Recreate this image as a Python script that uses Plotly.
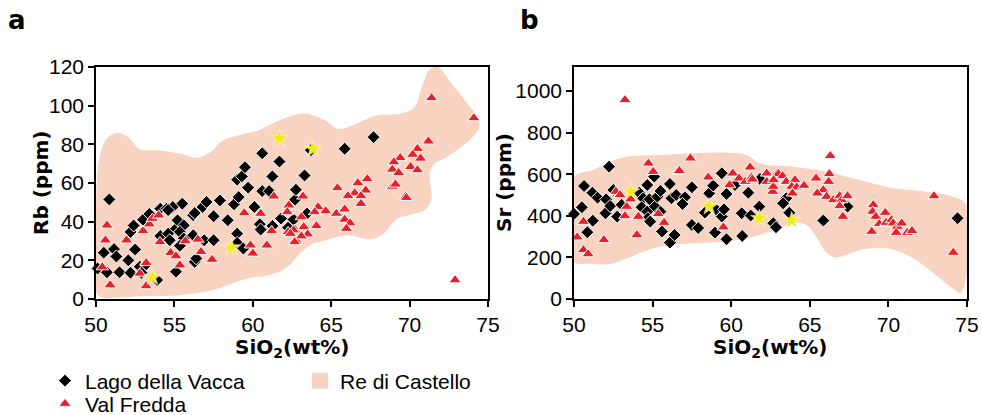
import plotly.graph_objects as go

# ---------------- data ----------------
# Panel a: SiO2 vs Rb
a_lv_x = [50.1, 50.85, 50.5, 50.7, 51.15, 51.3, 51.5, 52.06, 52.2, 52.4, 52.5, 52.2, 52.8, 52.9, 53.2, 53.0, 53.4, 53.9,
          54.1, 54.1, 54.5, 54.6, 54.7, 55.1, 55.2, 55.6, 55.35, 55.6, 55.35, 55.1, 55.5, 54.9, 56.2, 56.3, 56.2, 56.3,
          56.4, 56.9, 56.8, 57.05, 57.5, 57.5, 57.9, 58.4, 58.8, 59.0, 59.1, 59.0, 59.3, 59.5, 59.7, 59.0, 59.4, 60.1,
          60.45, 60.5, 60.6, 60.6, 61.04, 61.25, 61.25, 61.7, 61.8, 62.25, 62.6, 62.7, 62.75, 63.7, 65.86, 67.7, 63.3,
          63.46, 54.6]
a_lv_y = [15.8, 51.5, 23.9, 13.8, 25.8, 22.0, 13.8, 20.0, 34.7, 38.0, 25.6, 13.6, 16.7, 13.6, 18.0, 41.0, 44.0, 9.8,
          32.6, 46.7, 46.7, 33.8, 30.4, 36.4, 40.7, 38.1, 34.7, 31.3, 27.5, 14.1, 49.3, 47.6, 43.3, 44.5, 33.0, 19.2,
          21.0, 30.4, 47.6, 50.2, 30.4, 42.8, 51.0, 40.7, 49.0, 33.8, 52.7, 61.7, 63.4, 68.2, 57.6, 29.0, 26.1, 47.6,
          38.7, 35.9, 75.4, 55.8, 55.8, 63.4, 37.8, 71.1, 41.6, 36.9, 41.1, 51.4, 56.5, 77.0, 77.7, 83.7, 63.9,
          44.2, 46.0]

a_vf_x = [50.7, 50.6, 50.9, 51.95, 53.0, 53.4, 53.6, 54.0, 53.2, 52.8, 54.76, 55.1, 55.35, 55.7, 56.5, 56.7, 57.4,
          59.45, 59.85, 60.0, 60.5, 60.9, 61.2, 61.34, 62.3, 62.2, 62.25, 62.7, 62.75, 54.08, 53.2, 50.4,
          71.4, 74.1, 72.9, 71.2, 70.5, 70.2, 70.7, 69.4, 69.0, 68.9, 69.3, 70.06, 70.5, 68.9, 69.1, 69.75, 69.8,
          67.3, 66.7, 67.2, 66.5, 66.07, 66.9, 66.9, 65.4, 63.2, 64.16, 63.95, 64.65, 65.33, 65.86, 65.86, 66.2,
          65.97, 64.06, 63.25, 63.5, 63.1, 62.67, 62.6, 63.1, 62.4]
a_vf_y = [38.1, 30.4, 7.2, 30.4, 35.2, 38.7, 41.6, 43.3, 6.7, 13.2, 23.9, 22.2, 17.5, 30.0, 30.8, 24.4, 20.4,
          44.5, 27.8, 23.6, 44.2, 27.8, 35.2, 53.1, 48.5, 45.0, 34.7, 35.9, 30.4, 29.5, 18.7, 16.5,
          104.0, 93.6, 9.8, 81.6, 77.7, 74.7, 72.7, 73.0, 70.8, 67.0, 65.3, 68.4, 66.7, 58.2, 59.3, 53.1, 52.4,
          62.1, 60.0, 56.2, 54.8, 53.3, 53.3, 49.3, 57.4, 53.1, 47.6, 45.0, 45.5, 44.2, 46.4, 41.1, 39.3,
          36.4, 37.8, 37.3, 33.5, 32.5, 29.5, 35.6, 42.4, 33.8]

a_star_x = [53.6, 58.64, 61.7, 63.85]
a_star_y = [11.2, 26.6, 83.2, 77.7]

# Re di Castello field, panel a (outline points)
a_field_x = [50.05, 50.0, 50.15, 50.6, 51.3, 52.0, 52.8, 54.0, 55.5, 56.4, 57.3, 58.1, 59.2, 60.3, 61.7, 63.2, 64.5,
             65.5, 66.7, 67.9, 69.5, 70.3, 70.8, 71.3, 71.8, 72.8, 73.8, 74.4, 74.4, 73.8, 73.0, 72.3, 71.6, 71.3,
             71.3, 71.4, 71.0, 70.0, 69.2, 68.3, 67.5, 66.0, 64.5, 63.8, 63.0, 62.2, 61.1, 59.8, 58.5, 57.5, 55.4,
             53.0, 51.0, 50.3, 50.05]
a_field_y = [3, 40, 70, 82, 86, 84, 77.5, 77, 75, 73, 76, 82, 85, 87, 92.5, 96, 93,
             88, 91, 95, 96, 99, 110, 119, 120, 110, 100, 93, 88, 82, 77, 73, 70, 66,
             60, 52, 46, 43.5, 41.5, 33.5, 31, 33, 30, 28.5, 23.5, 16.5, 12.4, 10.8, 7.5, 4.6, 2,
             1.5, 0.5, 1, 3]

# Panel b: SiO2 vs Sr
b_lv_x = [50.0, 50.5, 50.64, 50.85, 51.17, 51.2, 51.5, 52.04, 52.0, 52.23, 52.3, 52.5, 52.75, 53.03, 54.15, 54.4,
          54.3, 54.66, 54.8, 54.66, 54.7, 54.85, 55.15, 55.1, 55.3, 55.5, 55.6, 55.5, 56.1, 56.2, 56.1, 56.4, 56.5,
          57.06, 56.9, 57.5, 57.5, 57.9, 58.33, 58.6, 58.86, 59.03, 58.97, 59.4, 59.4, 59.54, 59.7, 59.7, 60.24,
          60.67, 60.7, 61.09, 61.24, 61.79, 61.83, 62.68, 62.85, 63.5, 63.3, 63.7, 65.86, 67.4, 74.4]
b_lv_y = [409, 441, 543, 321, 511, 376, 487, 479, 412, 636, 447, 524, 396, 453, 511, 484,
          441, 548, 479, 420, 388, 372, 444, 588, 492, 519, 324, 420, 553, 484, 271, 308, 500,
          489, 457, 537, 356, 341, 415, 508, 545, 431, 319, 604, 396, 431, 505, 287, 548,
          412, 303, 511, 401, 444, 577, 364, 345, 484, 460, 415, 377, 444, 388]

b_vf_x = [53.24, 50.2, 50.6, 50.9, 50.6, 51.9, 52.67, 52.93, 53.24, 53.35, 53.6, 54.0, 54.1, 54.73, 55.04, 55.36,
          55.73, 56.6, 56.7, 57.4, 58.54, 59.5, 59.9, 60.1, 60.5, 60.9, 61.2, 61.3, 61.35, 62.26, 62.26, 62.64,
          62.68, 62.93, 66.3, 63.0, 63.27, 62.7, 63.5, 64.06, 63.85, 64.17, 64.63, 63.9, 65.4, 66.24, 66.2, 65.86,
          65.48, 66.07, 66.5, 66.9, 67.03, 66.9, 67.4, 67.1, 69.04, 69.0, 69.2, 68.94, 69.42, 69.8, 69.85, 70.2,
          70.3, 70.57, 70.5, 70.85, 71.2, 71.5, 72.9, 74.13]
b_vf_y = [957, 297, 236, 216, 372, 284, 516, 500, 399, 444, 480, 308, 396, 652, 612, 409,
          367, 612, 616, 676, 585, 345, 548, 604, 580, 564, 633, 585, 575, 604, 564, 516,
          540, 604, 688, 601, 591, 572, 564, 572, 540, 537, 545, 508, 580, 601, 564, 524,
          508, 492, 476, 495, 476, 447, 495, 396, 452, 420, 396, 324, 361, 415, 367, 380,
          364, 348, 319, 364, 319, 328, 495, 223]

b_star_x = [53.63, 58.6, 61.79, 63.85]
b_star_y = [516, 444, 388, 377]

# Re di Castello field, panel b (outline points)
b_field_x = [50.0, 51.2, 52.3, 53.35, 55.5, 57.6, 59.7, 61.0, 61.83, 63.95, 66.07, 68.2, 70.3, 72.4, 74.1, 74.9,
             75.0, 74.95, 74.6, 74.1, 72.9, 71.4, 69.9, 68.2, 66.7, 66.1, 65.4, 64.8, 63.95, 62.7, 61.0, 59.7,
             57.6, 55.5, 53.35, 52.3, 51.0, 50.0, 50.0]
b_field_y = [585, 620, 660, 684, 692, 700, 703, 692, 652, 636, 612, 572, 532, 516, 492, 460,
             300, 100, 30, 51, 123, 203, 244, 236, 200, 220, 300, 356, 364, 330, 292, 276,
             268, 252, 196, 168, 170, 179, 585]

x_ticks = [50, 55, 60, 65, 70, 75]
a_y_ticks = [0, 20, 40, 60, 80, 100, 120]
b_y_ticks = [0, 200, 400, 600, 800, 1000]

# ---------------- styling ----------------
FIELD = "#f9d3c1"
RED = "#e8202a"
STAR = "#f0ea1e"
TICKFONT = dict(family="Liberation Sans, Arial", size=21, color="black")
LEGFONT = dict(family="Liberation Sans, Arial", size=21, color="black")

fig = go.Figure()

def add_panel(xa, ya, fx, fy, lvx, lvy, vfx, vfy, sx, sy, show):
    fig.add_trace(go.Scatter(x=fx, y=fy, mode="lines", fill="toself", fillcolor=FIELD,
                             line=dict(width=0, color=FIELD, shape="spline", smoothing=1.0),
                             hoverinfo="skip", showlegend=False, xaxis=xa, yaxis=ya))
    fig.add_trace(go.Scatter(x=lvx, y=lvy, mode="markers", name="Lago della Vacca",
                             marker=dict(symbol="diamond", size=10, color="black",
                                         line=dict(color="white", width=1)),
                             cliponaxis=False, showlegend=show, legend="legend",
                             xaxis=xa, yaxis=ya))
    fig.add_trace(go.Scatter(x=vfx, y=vfy, mode="markers", name="Val Fredda",
                             marker=dict(symbol="triangle-up", size=11, color=RED,
                                         line=dict(color="white", width=1)),
                             cliponaxis=False, showlegend=show, legend="legend3",
                             xaxis=xa, yaxis=ya))
    fig.add_trace(go.Scatter(x=sx, y=sy, mode="markers", name="",
                             marker=dict(symbol="star", size=13, color=STAR,
                                         line=dict(color="white", width=0.5)),
                             cliponaxis=False, showlegend=False, xaxis=xa, yaxis=ya))

add_panel("x", "y", a_field_x, a_field_y, a_lv_x, a_lv_y, a_vf_x, a_vf_y, a_star_x, a_star_y, True)
add_panel("x2", "y2", b_field_x, b_field_y, b_lv_x, b_lv_y, b_vf_x, b_vf_y, b_star_x, b_star_y, False)

# legend-only entry for the field
fig.add_trace(go.Scatter(x=[None], y=[None], mode="markers", name="Re di Castello",
                         marker=dict(symbol="square", size=18, color=FIELD),
                         legend="legend2", showlegend=True))

W, H = 982, 415
def px(xp):
    return xp / W
def py(yp):
    return 1 - yp / H

axis_common = dict(showline=True, linecolor="black", linewidth=1.5, mirror=True,
                   ticks="outside", ticklen=6, tickwidth=1.5, tickcolor="black",
                   showgrid=False, zeroline=False, tickfont=TICKFONT, automargin=False)

def leg(xp, yc):
    return dict(x=px(xp), y=py(yc), xanchor="left", yanchor="middle", orientation="v",
                font=LEGFONT, bgcolor="rgba(0,0,0,0)", itemwidth=30)

def ann(text, xp, yp, size=20, angle=0):
    return dict(text=text, x=px(xp), y=py(yp), xref="paper", yref="paper", showarrow=False,
                xanchor="center", yanchor="middle", textangle=angle,
                font=dict(family="DejaVu Sans", size=size, color="black"))

fig.update_layout(
    width=W, height=H,
    margin=dict(l=0, r=0, t=0, b=0, autoexpand=False),
    paper_bgcolor="white", plot_bgcolor="white",
    xaxis=dict(domain=[px(96), px(488)], range=[50, 75], tickvals=x_ticks, anchor="y", **axis_common),
    yaxis=dict(domain=[py(299), py(67)], range=[0, 120], tickvals=a_y_ticks, anchor="x", **axis_common),
    xaxis2=dict(domain=[px(574), px(967)], range=[50, 75], tickvals=x_ticks, anchor="y2", **axis_common),
    yaxis2=dict(domain=[py(299), py(67)], range=[0, 1115], tickvals=b_y_ticks, anchor="x2", **axis_common),
    legend=leg(45, 381),
    legend3=leg(45, 404),
    legend2=leg(300, 381),
    annotations=[
        ann("<b>a</b>", 17, 20, size=26),
        ann("<b>b</b>", 529, 20, size=26),
        ann("<b>Rb (ppm)</b>", 41, 183, angle=-90),
        ann("<b>Sr (ppm)</b>", 504, 183, angle=-90),
        ann("<b>SiO<sub>2</sub>(wt%)</b>", 292, 348),
        ann("<b>SiO<sub>2</sub>(wt%)</b>", 770, 348),
    ],
)

fig.write_html("out.html", config={"displayModeBar": False},
               post_script="document.body.style.margin='0';document.body.style.overflow='hidden';")
